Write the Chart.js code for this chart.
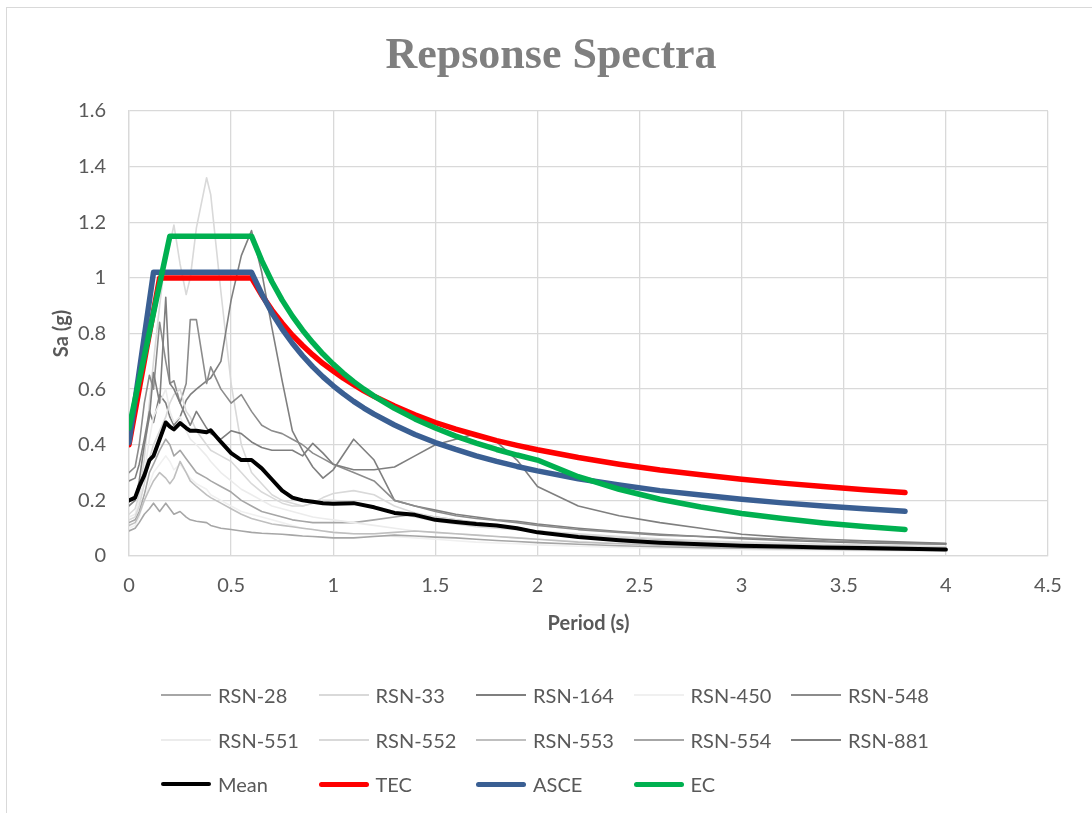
<!DOCTYPE html>
<html>
<head>
<meta charset="utf-8">
<script src="https://cdn.jsdelivr.net/npm/chart.js@4.4.1/dist/chart.umd.min.js"></script>
<style>
  html,body{margin:0;padding:0;background:#fff;}
  #wrap{position:relative;width:1092px;height:813px;overflow:hidden;background:#fff;}
  #frame{position:absolute;left:6px;top:7px;width:1200px;height:900px;border:1px solid #d9d9d9;}
  #c{position:absolute;left:0;top:0;}
  #title{position:absolute;left:0;top:29px;width:1102px;text-align:center;font-family:"Liberation Serif",serif;font-weight:bold;font-size:44px;line-height:50px;color:#7f7f7f;}
  .lg{position:absolute;display:flex;align-items:center;height:24px;font-family:Lato,sans-serif;font-size:20px;color:#595959;white-space:nowrap;}
  .lg span.s{display:inline-block;width:50px;margin-right:7px;}
</style>
</head>
<body>
<div id="wrap">
  <div id="frame"></div>
  <canvas id="c" width="1092" height="813"></canvas>
  <div id="title">Repsonse Spectra</div>
  <div id="legend"></div>
</div>
<script>
// ---- tick labels ----
const xTickLabels = ['0','0.5','1','1.5','2','2.5','3','3.5','4','4.5'];
const yTickLabels = ['0','0.2','0.4','0.6','0.8','1','1.2','1.4','1.6'];

// ---- periods of the records (s) ----
const periods = [0,0.03,0.05,0.075,0.1,0.12,0.15,0.18,0.2,0.22,0.25,0.28,0.3,0.33,0.38,0.4,0.45,0.5,0.55,0.6,0.65,0.7,0.75,0.8,0.85,0.9,0.95,1.0,1.1,1.2,1.3,1.4,1.5,1.6,1.7,1.8,1.9,2.0,2.2,2.4,2.6,2.8,3.0,3.2,3.4,3.6,3.8,4.0];

// ---- record spectra Sa (g) ----
const rsn28  = [0.12,0.13,0.16,0.22,0.30,0.33,0.38,0.42,0.40,0.36,0.38,0.35,0.33,0.30,0.28,0.27,0.25,0.23,0.20,0.18,0.16,0.15,0.14,0.13,0.125,0.12,0.12,0.12,0.12,0.13,0.14,0.15,0.14,0.13,0.12,0.11,0.10,0.09,0.075,0.065,0.058,0.05,0.045,0.04,0.037,0.034,0.031,0.028];
const rsn33  = [0.15,0.17,0.22,0.35,0.55,0.70,0.90,1.08,1.12,1.19,1.05,0.94,1.00,1.18,1.36,1.30,0.95,0.62,0.40,0.30,0.26,0.22,0.20,0.19,0.18,0.19,0.21,0.225,0.235,0.22,0.18,0.155,0.14,0.13,0.12,0.11,0.10,0.09,0.075,0.065,0.055,0.05,0.045,0.04,0.037,0.034,0.032,0.03];
const rsn164 = [0.27,0.28,0.33,0.42,0.52,0.48,0.58,0.55,0.50,0.47,0.50,0.56,0.58,0.60,0.63,0.64,0.70,0.92,1.08,1.17,1.02,0.82,0.63,0.45,0.38,0.32,0.28,0.31,0.42,0.345,0.20,0.18,0.165,0.15,0.14,0.13,0.125,0.115,0.10,0.088,0.078,0.07,0.062,0.056,0.051,0.047,0.044,0.042];
const rsn450 = [0.10,0.11,0.14,0.20,0.26,0.30,0.33,0.36,0.34,0.31,0.33,0.30,0.28,0.26,0.24,0.22,0.2,0.18,0.16,0.15,0.14,0.13,0.12,0.11,0.10,0.095,0.09,0.085,0.08,0.075,0.07,0.065,0.06,0.055,0.05,0.047,0.044,0.04,0.035,0.031,0.028,0.025,0.023,0.021,0.02,0.019,0.018,0.017];
const rsn548 = [0.30,0.32,0.40,0.55,0.65,0.60,0.84,0.70,0.62,0.63,0.55,0.62,0.85,0.85,0.62,0.68,0.60,0.55,0.58,0.52,0.47,0.45,0.44,0.42,0.40,0.37,0.35,0.33,0.30,0.27,0.20,0.18,0.16,0.145,0.135,0.128,0.12,0.11,0.095,0.085,0.075,0.07,0.065,0.06,0.055,0.05,0.047,0.044];
const rsn551 = [0.14,0.15,0.2,0.3,0.42,0.5,0.55,0.6,0.52,0.48,0.5,0.45,0.42,0.40,0.36,0.34,0.3,0.27,0.24,0.22,0.2,0.18,0.17,0.16,0.15,0.14,0.135,0.13,0.12,0.11,0.10,0.09,0.085,0.08,0.075,0.07,0.065,0.06,0.052,0.046,0.041,0.037,0.034,0.031,0.029,0.027,0.025,0.024];
const rsn552 = [0.13,0.14,0.18,0.26,0.35,0.40,0.45,0.50,0.55,0.58,0.60,0.52,0.50,0.45,0.40,0.38,0.36,0.34,0.30,0.26,0.23,0.21,0.19,0.18,0.18,0.19,0.20,0.20,0.19,0.18,0.16,0.14,0.125,0.115,0.105,0.10,0.095,0.09,0.08,0.07,0.062,0.055,0.05,0.046,0.042,0.039,0.036,0.034];
const rsn553 = [0.11,0.12,0.15,0.20,0.24,0.27,0.30,0.28,0.26,0.28,0.34,0.30,0.27,0.25,0.22,0.21,0.19,0.17,0.15,0.135,0.125,0.115,0.11,0.105,0.10,0.095,0.09,0.085,0.08,0.08,0.085,0.09,0.085,0.08,0.075,0.07,0.065,0.06,0.05,0.044,0.039,0.035,0.032,0.03,0.028,0.026,0.024,0.022];
const rsn554 = [0.09,0.10,0.12,0.15,0.17,0.19,0.16,0.19,0.17,0.15,0.16,0.14,0.13,0.125,0.12,0.11,0.10,0.095,0.09,0.085,0.082,0.08,0.078,0.075,0.072,0.07,0.068,0.065,0.065,0.07,0.075,0.072,0.068,0.065,0.06,0.056,0.052,0.048,0.042,0.037,0.033,0.03,0.028,0.026,0.024,0.022,0.021,0.02];
const rsn881 = [0.18,0.20,0.27,0.40,0.50,0.66,0.55,0.93,0.62,0.60,0.55,0.50,0.47,0.52,0.46,0.44,0.42,0.45,0.44,0.41,0.39,0.38,0.38,0.38,0.36,0.405,0.37,0.33,0.31,0.31,0.32,0.36,0.40,0.42,0.44,0.41,0.345,0.25,0.18,0.145,0.12,0.10,0.078,0.068,0.06,0.055,0.05,0.046];
const meanSa = [0.20,0.21,0.25,0.29,0.345,0.36,0.42,0.48,0.465,0.455,0.478,0.46,0.45,0.45,0.445,0.452,0.41,0.37,0.345,0.345,0.315,0.275,0.235,0.21,0.20,0.195,0.19,0.188,0.19,0.175,0.155,0.148,0.13,0.122,0.115,0.11,0.10,0.085,0.068,0.057,0.048,0.042,0.037,0.034,0.031,0.029,0.026,0.023];

// ---- design spectra ----
const codeTail = [0.6,0.65,0.7,0.75,0.8,0.85,0.9,0.95,1.0,1.05,1.1,1.15,1.2,1.3,1.4,1.5,1.6,1.7,1.8,1.9,2.0,2.2,2.4,2.6,2.8,3.0,3.2,3.4,3.6,3.8];
const tecPeriods  = [0, 0.15, ...codeTail];
const tecSa  = [0.40,1.0,1.0,0.938,0.884,0.837,0.794,0.757,0.723,0.692,0.665,0.639,0.616,0.594,0.574,0.539,0.508,0.480,0.456,0.435,0.415,0.398,0.382,0.354,0.330,0.309,0.292,0.276,0.262,0.250,0.2385,0.228];
const ascePeriods = [0, 0.12, ...codeTail];
const asceSa = [0.408,1.02,1.02,0.942,0.874,0.816,0.765,0.72,0.68,0.644,0.612,0.583,0.556,0.532,0.51,0.471,0.437,0.408,0.383,0.36,0.34,0.322,0.306,0.278,0.255,0.235,0.219,0.204,0.191,0.18,0.17,0.161];
const ecPeriods   = [0, 0.2, ...codeTail];
const ecSa   = [0.46,1.15,1.15,1.062,0.986,0.92,0.8625,0.812,0.767,0.726,0.69,0.657,0.627,0.60,0.575,0.531,0.493,0.46,0.431,0.406,0.383,0.363,0.345,0.285,0.240,0.204,0.176,0.153,0.135,0.119,0.106,0.0956];

const recordNames  = ['RSN-28','RSN-33','RSN-164','RSN-450','RSN-548','RSN-551','RSN-552','RSN-553','RSN-554','RSN-881'];
const recordValues = [rsn28, rsn33, rsn164, rsn450, rsn548, rsn551, rsn552, rsn553, rsn554, rsn881];
const recordColors = ['#a6a6a6','#d9d9d9','#7f7f7f','#f0f0f0','#8c8c8c','#ececec','#d9d9d9','#bfbfbf','#a6a6a6','#7f7f7f'];

const pts = (xs, ys) => xs.map((x, i) => ({x: x, y: ys[i]}));

const datasets = [];
recordNames.forEach((n, i) => {
  datasets.push({label: n, data: pts(periods, recordValues[i]), borderColor: recordColors[i], borderWidth: 1.6,
    pointRadius: 0, tension: 0, order: 13 - i, _lw: 2});
});
datasets.push({label: 'Mean', data: pts(periods, meanSa), borderColor: '#000000', borderWidth: 4, pointRadius: 0, tension: 0, order: 3, _lw: 4});
datasets.push({label: 'TEC', data: pts(tecPeriods, tecSa), borderColor: '#ff0000', borderWidth: 5.5, pointRadius: 0, tension: 0, order: 2, _lw: 5});
datasets.push({label: 'ASCE', data: pts(ascePeriods, asceSa), borderColor: '#3a5f93', borderWidth: 5.5, pointRadius: 0, tension: 0, order: 1, _lw: 5});
datasets.push({label: 'EC', data: pts(ecPeriods, ecSa), borderColor: '#00b050', borderWidth: 5.5, pointRadius: 0, tension: 0, order: 0, _lw: 5});
datasets.forEach(d => { d.borderCapStyle = 'round'; d.borderJoinStyle = 'round'; d.fill = false; });

const tickFont = {family: 'Lato', size: 20};
const titleFont = {family: 'Lato', size: 20, weight: 'bold'};

new Chart(document.getElementById('c'), {
  type: 'line',
  data: {datasets: datasets},
  options: {
    responsive: false,
    animation: false,
    devicePixelRatio: 1,
    layout: {padding: {top: 111, left: 0, right: 44, bottom: 170}},
    plugins: {legend: {display: false}, title: {display: false}, tooltip: {enabled: false}},
    scales: {
      x: {
        type: 'linear', min: 0, max: 4.5,
        ticks: {stepSize: 0.5, font: tickFont, color: '#595959', padding: 18, maxRotation: 0,
          callback: (v, i) => xTickLabels[i]},
        grid: {color: '#d9d9d9', lineWidth: 1.3, drawTicks: false},
        border: {color: '#d9d9d9', width: 1.3},
        title: {display: true, text: 'Period (s)', font: titleFont, color: '#595959', padding: {top: 0, bottom: 7}},
        afterFit: s => { s.height = 87; }
      },
      y: {
        type: 'linear', min: 0, max: 1.6,
        ticks: {stepSize: 0.2, font: tickFont, color: '#595959', padding: 23,
          callback: (v, i) => yTickLabels[i]},
        grid: {color: '#d9d9d9', lineWidth: 1.3, drawTicks: false},
        border: {color: '#d9d9d9', width: 1.3},
        title: {display: true, text: 'Sa (g)', font: titleFont, color: '#595959', padding: {top: 50, bottom: 0}},
        afterFit: s => { s.width = 129; }
      }
    }
  }
});

// ---- legend (5-column grid, as in the reference) ----
const lg = document.getElementById('legend');
const rowsY = [695, 740, 784];
datasets.forEach((d, i) => {
  const col = i < 10 ? i % 5 : i - 10;
  const row = i < 5 ? 0 : (i < 10 ? 1 : 2);
  const item = document.createElement('div');
  item.className = 'lg';
  item.style.left = (161 + col * 157.5) + 'px';
  item.style.top = (rowsY[row] - 12) + 'px';
  const sw = document.createElement('span');
  sw.className = 's';
  sw.style.height = d._lw + 'px';
  sw.style.background = d.borderColor;
  sw.style.borderRadius = (d._lw >= 4 ? d._lw / 2 : 0) + 'px';
  const tx = document.createElement('span');
  tx.textContent = d.label;
  item.appendChild(sw); item.appendChild(tx);
  lg.appendChild(item);
});
</script>
</body>
</html>
